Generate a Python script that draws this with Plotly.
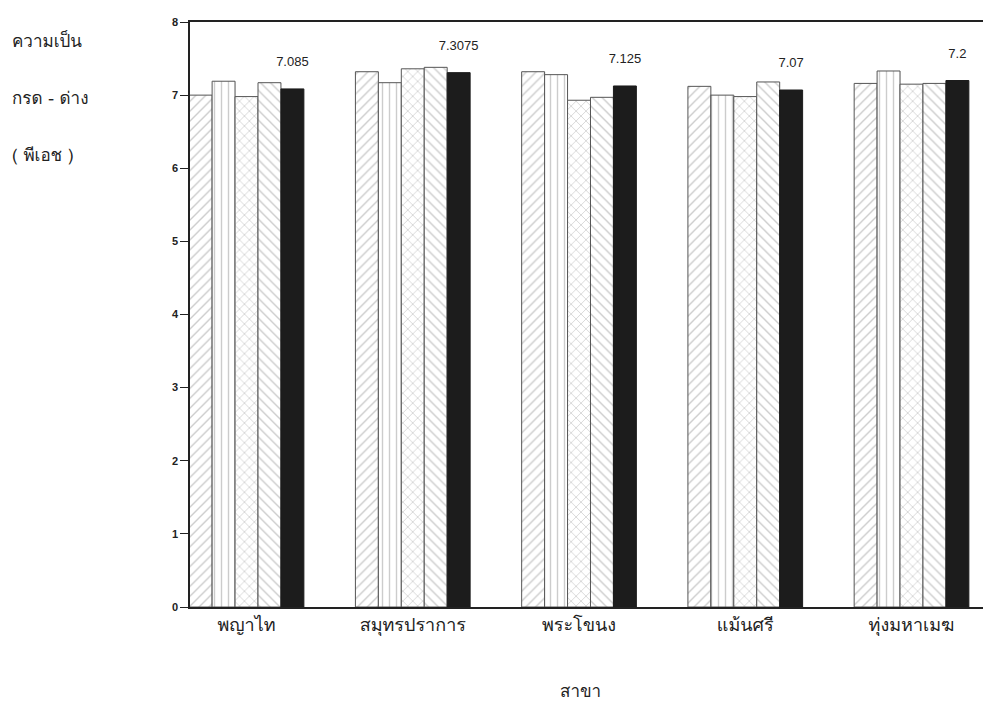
import plotly.graph_objects as go

branches = ["พญาไท", "สมุทรปราการ", "พระโขนง", "แม้นศรี", "ทุ่งมหาเมฆ"]
s1 = [7.00, 7.32, 7.32, 7.12, 7.16]
s2 = [7.19, 7.17, 7.28, 7.00, 7.33]
s3 = [6.98, 7.36, 6.93, 6.98, 7.15]
s4 = [7.17, 7.38, 6.97, 7.18, 7.16]
avg = [7.085, 7.3075, 7.125, 7.07, 7.2]
avg_labels = ["7.085", "7.3075", "7.125", "7.07", "7.2"]
y_ticks = [0, 1, 2, 3, 4, 5, 6, 7, 8]

THAI = "Loma, Garuda, Norasi, 'Noto Sans Thai', 'Noto Sans', sans-serif"

fig = go.Figure()
patterns = ["/", "|", "x", "\\"]
for vals, pat in zip([s1, s2, s3, s4], patterns):
    fig.add_trace(go.Bar(
        x=branches, y=vals,
        marker=dict(color="white", line=dict(color="#555", width=1),
                    pattern=dict(shape=pat, fgcolor="#999", size=7, solidity=0.2)),
        showlegend=False, hoverinfo="skip"))

fig.add_trace(go.Bar(
    x=branches, y=avg,
    text=[t + "<br> " for t in avg_labels], textposition="outside",
    constraintext="none",
    textfont=dict(family="Arial, Liberation Sans, sans-serif", size=13, color="#222"),
    cliponaxis=False,
    marker=dict(color="#1c1c1c", line=dict(color="#1c1c1c", width=1)),
    showlegend=False, hoverinfo="skip"))

fig.update_layout(
    width=983, height=711,
    margin=dict(l=190, r=0, t=22, b=104),
    paper_bgcolor="white", plot_bgcolor="white",
    barmode="group", bargap=0.31, bargroupgap=0,
    uniformtext=dict(mode=False),
    xaxis=dict(range=[-0.34, 4.43], showline=True, linecolor="#222", linewidth=2,
               mirror=True, ticks="", showgrid=False,
               tickfont=dict(family=THAI, size=18, color="#222")),
    yaxis=dict(range=[0, 8], tickvals=y_ticks,
               ticktext=["<b>%d</b>" % v for v in y_ticks],
               showline=True, linecolor="#222",
               linewidth=1.5, ticks="outside", ticklen=8, tickcolor="#222",
               showgrid=False, zeroline=False,
               tickfont=dict(family="Arial, Liberation Sans, sans-serif", size=11, color="#222")),
)
plot_w = 983 - 190
plot_h = 711 - 22 - 104
titles = [("ความเป็น", 10, 40), ("กรด - ด่าง", 10, 98), ("( พีเอช )", 10, 155)]
ann = []
for txt, px, py in titles:
    ann.append(dict(text=txt, x=(px - 190) / plot_w, y=(711 - 104 - py) / plot_h,
                    xref="paper", yref="paper", xanchor="left", yanchor="middle",
                    showarrow=False, font=dict(family=THAI, size=17, color="#222")))
ann.append(dict(text="สาขา", x=(580 - 190) / plot_w, y=(711 - 104 - 690) / plot_h,
                xref="paper", yref="paper", xanchor="center", yanchor="middle",
                showarrow=False, font=dict(family=THAI, size=17, color="#222")))
fig.layout.annotations = ann

fig.write_html("out.html")
